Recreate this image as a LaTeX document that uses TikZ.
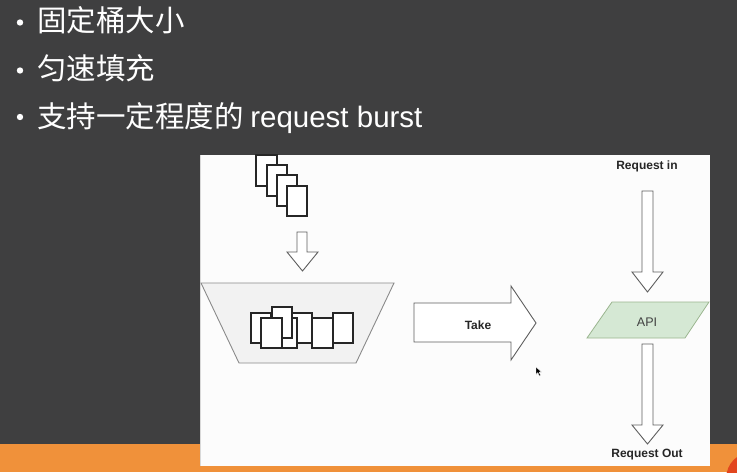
\documentclass[tikz,border=0pt]{standalone}
\usepackage{fontspec}
\setmainfont{Liberation Sans}
\newfontfamily\cjk{Noto Sans CJK SC}
\definecolor{slidebg}{HTML}{3F3F40}
\definecolor{bandorange}{HTML}{F0913A}
\definecolor{cornerred}{HTML}{E2461F}
\definecolor{bucketfill}{HTML}{F2F2F2}
\definecolor{bucketline}{HTML}{8A8A8A}
\definecolor{arrowline}{HTML}{5E5E5E}
\definecolor{apifill}{HTML}{D5E8D4}
\definecolor{apiline}{HTML}{9AB58F}
\tikzset{
  bullettext/.style={anchor=base west, inner sep=0pt, text=white, font=\fontsize{29.5}{32}\selectfont},
  doc/.style={draw=black!85, fill=white, line width=1.1pt},
  blockarrow/.style={draw=arrowline, fill=white, line width=0.9pt, line join=miter},
  label/.style={inner sep=0pt, font=\bfseries\fontsize{12}{14}\selectfont, text=black!85},
}
\begin{document}
\begin{tikzpicture}[x=1pt, y=-1pt]
\useasboundingbox (0,0) rectangle (737,472);
% slide background and footer band
\fill[slidebg] (0,0) rectangle (737,444);
\fill[bandorange] (0,444) rectangle (737,472);
\begin{scope}
  \clip (0,0) rectangle (737,472);
  \fill[cornerred] (752,478) circle[radius=25.8];
\end{scope}

% bullet list
\foreach \yy in {22.5,70.5,117}
  \fill[white] (20,\yy) circle[radius=3.2];
\node[bullettext] (b1) at (37,31) {\cjk 固定桶大小};
\node[bullettext] (b2) at (37,79) {\cjk 匀速填充};
\node[bullettext] (b3) at (37,127) {\cjk 支持一定程度的\ \rmfamily request burst};

% diagram panel
\fill[white!99!black] (200,155) rectangle (710,466);
\draw[black!15, line width=0.8pt] (200.4,155) -- (200.4,466);

% incoming requests
\draw[doc] (256,155) rectangle (277,186);
\draw[doc] (267,165) rectangle (287,196);
\draw[doc] (277,175) rectangle (297,206);
\draw[doc] (287,186) rectangle (307,216);

% arrow into the bucket
\draw[blockarrow] (297,232) -- (307,232) -- (307,252) -- (318,252) -- (302.5,271)
  -- (287,252) -- (297,252) -- cycle;

% bucket
\draw[draw=bucketline, fill=bucketfill, line width=0.9pt] (201,283) -- (394,283) -- (356,363) -- (239,363) -- cycle;
\draw[doc] (251,313) rectangle (271,343);
\draw[doc] (292,313) rectangle (312,343);
\draw[doc] (277,318) rectangle (297,348);
\draw[doc] (272,307) rectangle (292,338);
\draw[doc] (261,318) rectangle (282,348);
\draw[doc] (312,318) rectangle (333,348);
\draw[doc] (333,313) rectangle (353,343);

% take arrow
\draw[blockarrow] (414,303) -- (511,303) -- (511,286) -- (536,323) -- (511,360)
  -- (511,342) -- (414,342) -- cycle;
\node[label, font=\bfseries\fontsize{12}{14}\selectfont] (take) at (478,325) {Take};

% request path through the API
\node[label] (reqin) at (647,166) {Request in};
\draw[blockarrow] (642,191) -- (653,191) -- (653,272) -- (663,272) -- (647.5,292)
  -- (632,272) -- (642,272) -- cycle;
\draw[draw=apiline, fill=apifill, line width=0.8pt] (612,302) -- (709,302) -- (685,338) -- (587,338) -- cycle;
\node[inner sep=0pt, font=\fontsize{12.5}{14}\selectfont, text=black!75] (api) at (647,322) {API};
\draw[blockarrow] (642,344) -- (653,344) -- (653,425) -- (663,425) -- (647.5,444)
  -- (632,425) -- (642,425) -- cycle;
\node[label] (reqout) at (647,455) {Request Out};

% mouse pointer
\draw[fill=black, draw=white, line width=0.3pt] (536,367) -- (536,374.5) -- (537.8,372.6)
  -- (539.4,376) -- (540.6,375.4) -- (539.1,372.1) -- (541.6,372.1) -- cycle;
\end{tikzpicture}
\end{document}
